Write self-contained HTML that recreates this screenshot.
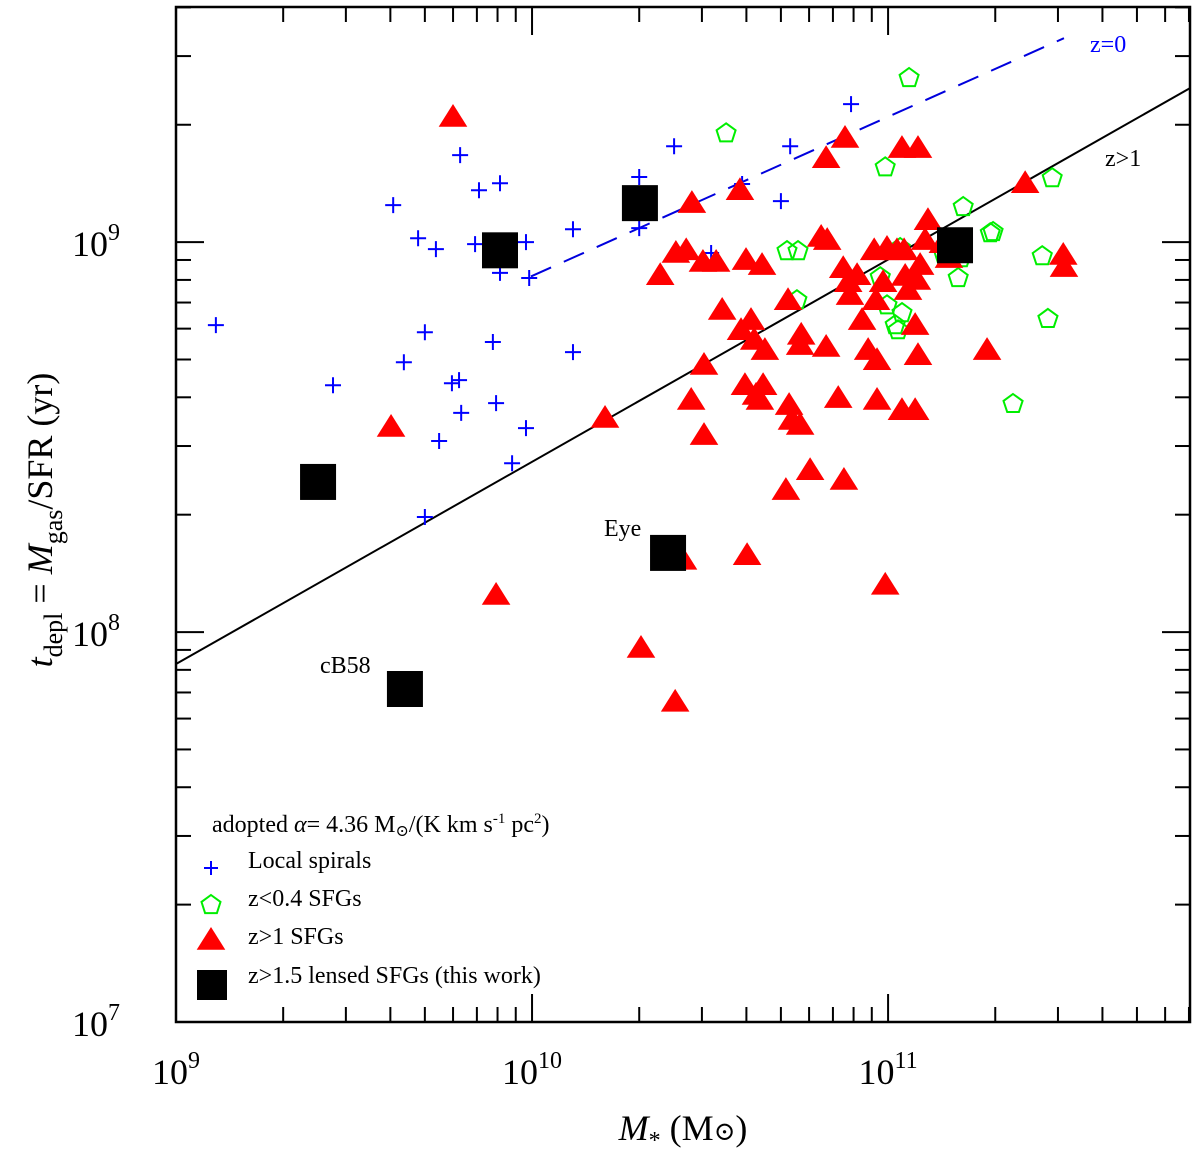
<!DOCTYPE html>
<html><head><meta charset="utf-8"><style>
body{margin:0;background:#fff}
svg{display:block;font-family:"Liberation Serif","DejaVu Serif",serif}
</style></head><body>
<svg id="chart" width="1200" height="1153" viewBox="0 0 1200 1153"></svg>
<script>
// log10 values
const spiralsX=[9.112,9.441,9.610,9.640,9.680,9.699,9.730,9.739,9.775,9.798,9.795,9.801,9.851,9.840,9.910,9.890,9.899,9.910,9.983,9.983,9.944,9.699,10.115,10.115,10.301,10.301,10.399,10.503,10.590,10.699,10.725,10.896,9.992];
const spiralsY=[8.787,8.633,9.095,8.692,9.010,8.769,8.982,8.490,8.638,9.223,8.646,8.562,9.133,8.995,9.151,8.744,8.587,8.921,9.000,8.523,8.433,8.295,9.033,8.718,9.167,9.036,9.246,8.972,9.149,9.105,9.246,9.354,8.908];
const lowzX=[10.545,11.059,10.992,11.461,11.211,11.351,11.449,11.433,11.287,11.197,11.205,10.716,10.747,10.744,10.978,10.997,11.020,11.039,11.028,11.034,11.295,11.157];
const lowzY=[9.279,9.421,9.192,9.164,9.090,8.585,8.803,8.964,9.023,8.908,8.959,8.977,8.977,8.851,8.910,8.838,8.787,8.818,8.774,8.985,9.026,8.967];
const highzX=[9.778,9.604,9.899,10.205,10.306,10.402,10.424,10.449,10.433,10.360,10.404,10.480,10.447,10.483,10.483,10.517,10.534,10.584,10.601,10.587,10.598,10.604,10.615,10.624,10.629,10.640,10.646,10.654,10.649,10.719,10.722,10.730,10.753,10.713,10.753,10.781,10.756,10.826,10.826,10.812,10.829,10.879,10.874,10.888,10.860,10.893,10.876,10.913,10.944,10.969,10.969,10.966,10.961,10.992,10.997,11.039,11.084,11.039,11.076,11.048,11.056,11.081,11.076,11.084,11.090,11.112,11.104,11.154,11.171,11.278,11.385,11.492,11.494,11.025,10.927,10.986,11.045];
const highzY=[9.321,8.526,8.095,8.549,7.959,7.821,8.185,9.100,8.979,8.915,8.972,8.949,8.595,8.505,8.685,8.949,8.826,9.133,8.954,8.774,8.633,8.197,8.800,8.749,8.608,8.595,8.941,8.723,8.633,8.851,8.582,8.544,8.531,8.364,8.736,8.415,8.762,9.215,8.731,9.013,9.005,9.267,8.933,8.897,8.600,8.864,8.390,8.915,8.723,8.697,8.595,8.851,8.979,8.121,8.985,9.241,9.241,8.569,8.569,8.913,8.877,8.903,8.787,8.710,8.941,9.056,9.005,8.997,8.959,8.723,9.151,8.967,8.936,8.979,8.800,8.897,8.979];
const lensX=[9.399,9.910,10.303,10.382,9.643,11.188];
const lensY=[8.385,8.979,9.100,8.203,7.854,8.992];
const xTickVals=[9,10,11];
const yTickVals=[7,8,9];
const fitZ1=[[9,7.918],[11.848,9.395]];
const fitZ0=[[9.997,8.912],[11.494,9.523]];

const L=176,R=1190,T=7,B=1022,X0=9,X1=11.848,Y0=7,Y1=9.603;
const sx=v=>L+(v-X0)/(X1-X0)*(R-L);
const sy=v=>B-(v-Y0)/(Y1-Y0)*(B-T);
const NS="http://www.w3.org/2000/svg";
const svg=document.getElementById('chart');
function mk(tag,attrs,parent){const e=document.createElementNS(NS,tag);for(const k in attrs)e.setAttribute(k,attrs[k]);(parent||svg).appendChild(e);return e;}

const gAx=mk('g',{});


const frame=mk('rect',{x:L,y:T,width:R-L,height:B-T,fill:'none',stroke:'#000','stroke-width':2.5},gAx);


for(let d=9;d<=11;d++){for(let m=1;m<=9;m++){const v=d+Math.log10(m);if(v>X1)break;const x=sx(v);const len=m===1?28:15;
mk('line',{x1:x,y1:B,x2:x,y2:B-len,stroke:'#000','stroke-width':2},gAx);mk('line',{x1:x,y1:T,x2:x,y2:T+len,stroke:'#000','stroke-width':2},gAx);}}
for(let d=7;d<=9;d++){for(let m=1;m<=9;m++){const v=d+Math.log10(m);if(v>Y1)break;const y=sy(v);const len=m===1?28:15;
mk('line',{x1:L,y1:y,x2:L+len,y2:y,stroke:'#000','stroke-width':2},gAx);mk('line',{x1:R,y1:y,x2:R-len,y2:y,stroke:'#000','stroke-width':2},gAx);}}
xTickVals.forEach(v=>{const t=mk('text',{x:sx(v),y:1084,'text-anchor':'middle','font-size':36},gAx);t.innerHTML='10<tspan dy="-16" font-size="24">'+v+'</tspan>';

});
yTickVals.forEach(v=>{const t=mk('text',{x:120,y:sy(v)+14,'text-anchor':'end','font-size':36},gAx);t.innerHTML='10<tspan dy="-16" font-size="24">'+v+'</tspan>';

});
const xt=mk('text',{x:683,y:1140,'text-anchor':'middle','font-size':36});xt.innerHTML='<tspan font-style="italic">M</tspan><tspan dy="8" font-size="24">*</tspan><tspan dy="-8"> (M</tspan><tspan font-size="26">⊙</tspan>)';


const yt=mk('text',{x:0,y:0,'text-anchor':'middle','font-size':36,transform:'translate(52,520) rotate(-90)'});yt.innerHTML='<tspan font-style="italic">t</tspan><tspan dy="10" font-size="26">depl</tspan><tspan dy="-10"> = </tspan><tspan font-style="italic">M</tspan><tspan dy="10" font-size="26">gas</tspan><tspan dy="-10">/SFR (yr)</tspan>';



const l1=mk('line',{x1:sx(fitZ1[0][0]),y1:sy(fitZ1[0][1]),x2:sx(fitZ1[1][0]),y2:sy(fitZ1[1][1]),stroke:'#000','stroke-width':2});


const l0=mk('line',{x1:sx(fitZ0[0][0]),y1:sy(fitZ0[0][1]),x2:sx(fitZ0[1][0]),y2:sy(fitZ0[1][1]),stroke:'#0000dd','stroke-width':2,'stroke-dasharray':'22,14'});



function plus(x,y,c,s,p){mk('path',{d:`M${x-s} ${y}H${x+s}M${x} ${y-s}V${y+s}`,stroke:c,'stroke-width':2,fill:'none'},p);}
function pent(x,y,r,p){let d='';for(let i=0;i<5;i++){const a=-Math.PI/2+i*2*Math.PI/5;d+=(i?'L':'M')+(x+r*Math.cos(a)).toFixed(1)+' '+(y+r*Math.sin(a)).toFixed(1);}mk('path',{d:d+'Z',fill:'none',stroke:'#00ee00','stroke-width':2},p);}
function tri(x,y,s,p){mk('path',{d:`M${x} ${y-s}L${x+s*1.1} ${y+s*0.75}L${x-s*1.1} ${y+s*0.75}Z`,fill:'#ff0000'},p);}

const gS=mk('g',{});
spiralsX.forEach((v,i)=>plus(sx(v),sy(spiralsY[i]),'#0000ff',8,gS));
const gG=mk('g',{});
lowzX.forEach((v,i)=>pent(sx(v),sy(lowzY[i]),10,gG));
const gR=mk('g',{});
highzX.forEach((v,i)=>tri(sx(v),sy(highzY[i]),13,gR));
const gK=mk('g',{});
lensX.forEach((v,i)=>mk('rect',{x:sx(v)-18,y:sy(lensY[i])-18,width:36,height:36,fill:'#000'},gK));

function label(x,y,txt,name,col,size){const t=mk('text',{x:x,y:y,'font-size':size||24,fill:col||'#000'});t.textContent=txt;

return t;}
label(1090,52,'z=0','label-z0','#0000ff');
label(1105,166,'z>1','label-z1');
label(604,536,'Eye','label-eye');
label(320,673,'cB58','label-cb58');

const gL=mk('g',{});
const lt=mk('text',{x:212,y:832,'font-size':24},gL);lt.innerHTML='adopted <tspan font-style="italic">α</tspan>= 4.36 M<tspan font-size="16" dy="4">⊙</tspan><tspan dy="-4">/(K km s</tspan><tspan font-size="15" dy="-9">-1</tspan><tspan dy="9"> pc</tspan><tspan font-size="15" dy="-9">2</tspan><tspan dy="9">)</tspan>';


plus(211,868,'#0000ff',7,gL);
pent(211,905,10,gL);
tri(211,940,13,gL);
mk('rect',{x:197,y:970,width:30,height:30,fill:'#000'},gL);
[['Local spirals',868],['z<0.4 SFGs',906],['z>1 SFGs',944],['z>1.5 lensed SFGs (this work)',983]].forEach(([t,y])=>{
const e=mk('text',{x:248,y:y,'font-size':24},gL);e.textContent=t;

});
</script>
</body></html>
